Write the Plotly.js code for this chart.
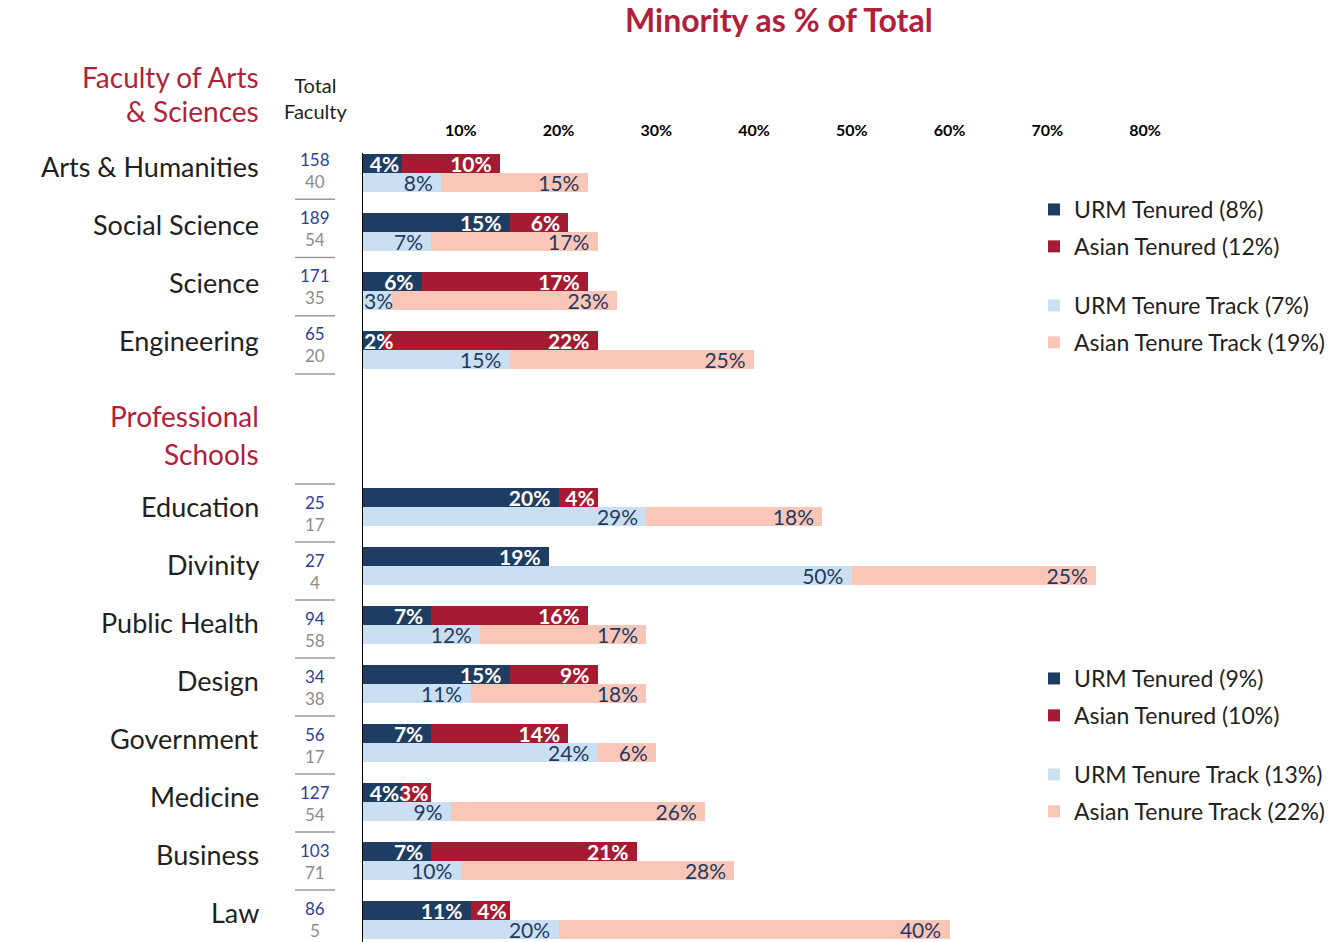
<!DOCTYPE html>
<html>
<head>
<meta charset="utf-8">
<script src="https://cdn.plot.ly/plotly-3.0.1.min.js"></script>
<style>html,body{margin:0;padding:0;background:#fff;}#chart{width:1336px;height:942px;}</style>
</head>
<body>
<div id="chart"></div>
<script>
// ---------- data ----------
const fasCategories = ['Arts & Humanities', 'Social Science', 'Science', 'Engineering'];
const fasTotalTenured = [158, 189, 171, 65];
const fasTotalTrack = [40, 54, 35, 20];
const fasUrmTenured = [4, 15, 6, 2];
const fasAsianTenured = [10, 6, 17, 22];
const fasUrmTrack = [8, 7, 3, 15];
const fasAsianTrack = [15, 17, 23, 25];
const fasLegendNames = ['URM Tenured (8%)', 'Asian Tenured (12%)', 'URM Tenure Track (7%)', 'Asian Tenure Track (19%)'];

const profCategories = ['Education', 'Divinity', 'Public Health', 'Design', 'Government', 'Medicine', 'Business', 'Law'];
const profTotalTenured = [25, 27, 94, 34, 56, 127, 103, 86];
const profTotalTrack = [17, 4, 58, 38, 17, 54, 71, 5];
const profUrmTenured = [20, 19, 7, 15, 7, 4, 7, 11];
const profAsianTenured = [4, 0, 16, 9, 14, 3, 21, 4];
const profUrmTrack = [29, 50, 12, 11, 24, 9, 10, 20];
const profAsianTrack = [18, 25, 17, 18, 6, 26, 28, 40];
const profLegendNames = ['URM Tenured (9%)', 'Asian Tenured (10%)', 'URM Tenure Track (13%)', 'Asian Tenure Track (22%)'];

const groupHeaders = [['Faculty of Arts', '& Sciences'], ['Professional', 'Schools']];
const xTickVals = [10, 20, 30, 40, 50, 60, 70, 80];
const xTickText = ['10%', '20%', '30%', '40%', '50%', '60%', '70%', '80%'];
const chartTitle = 'Minority as % of Total';
const totalHeader = 'Total<br>Faculty';

// ---------- styling ----------
const FONT = 'Lato, "Noto Sans", sans-serif';
const C_URM_T = '#1e3d63';
const C_ASIAN_T = '#a51b31';
const C_URM_TT = '#cbdff3';
const C_ASIAN_TT = '#fac6b8';
const C_CRIMSON = '#b01f3c';
const C_TEXT = '#231f20';
const C_NAVY_TXT = '#1f3a5f';

// geometry (pixels)
const W = 1336, H = 942;
const PL = 363, PR = 1145, PT = 153, PB = 942;
const ROW = 59;            // px per category slot
const Y0 = 173;            // px of slot position 0
const BAR = 19 / ROW;      // bar thickness in slot units
const PROF_OFFSET = 5.661; // slot position of first professional school
const yTop = -(Y0 - PT) / ROW;
const yBot = (PB - Y0) / ROW;
const px2x = p => (p - PL) / (PR - PL);
const px2y = p => (PB - p) / (PB - PT);
const px2slot = p => (p - Y0) / ROW;

const fasPos = fasCategories.map((c, i) => i);
const profPos = profCategories.map((c, i) => PROF_OFFSET + i);

const SMALL = 3;  // first-segment labels this small start at the axis instead
const up = -BAR / 2, dn = BAR / 2;
const annotations = [];

function barTrace(vals, pos, shift, color, name, legend, textColor, bold, first) {
  const tf = {family: FONT, size: 21, color: textColor, weight: bold ? 'bold' : 'normal'};
  const text = vals.map((v, i) => {
    if (!v) return '';
    if (first && v <= SMALL) {
      annotations.push({text: v + '%', xref: 'x', yref: 'y', x: 0, y: pos[i] + shift, xanchor: 'left', yanchor: 'middle',
        showarrow: false, xshift: -1, font: tf});
      return '';
    }
    return v + '%' + (v > 4 ? '\u00a0' : '');
  });
  return {
    type: 'bar', orientation: 'h',
    x: vals, y: pos.map(p => p + shift),
    width: BAR,
    name: name, legend: legend, legendgroup: name,
    marker: {color: color, line: {width: 0}},
    text: text, textposition: 'inside', insidetextanchor: 'end',
    textangle: 0, constraintext: 'none', cliponaxis: false,
    textfont: tf,
    hoverinfo: 'skip'
  };
}

const traces = [
  barTrace(fasUrmTenured, fasPos, up, C_URM_T, fasLegendNames[0], 'legend', '#ffffff', true, true),
  barTrace(fasAsianTenured, fasPos, up, C_ASIAN_T, fasLegendNames[1], 'legend', '#ffffff', true, false),
  barTrace(fasUrmTrack, fasPos, dn, C_URM_TT, fasLegendNames[2], 'legend2', C_NAVY_TXT, false, true),
  barTrace(fasAsianTrack, fasPos, dn, C_ASIAN_TT, fasLegendNames[3], 'legend2', C_NAVY_TXT, false, false),
  barTrace(profUrmTenured, profPos, up, C_URM_T, profLegendNames[0], 'legend3', '#ffffff', true, true),
  barTrace(profAsianTenured, profPos, up, C_ASIAN_T, profLegendNames[1], 'legend3', '#ffffff', true, false),
  barTrace(profUrmTrack, profPos, dn, C_URM_TT, profLegendNames[2], 'legend4', C_NAVY_TXT, false, true),
  barTrace(profAsianTrack, profPos, dn, C_ASIAN_TT, profLegendNames[3], 'legend4', C_NAVY_TXT, false, false)
];

// ---------- left column: names, totals, separators ----------
const shapes = [];
function sep(p) {
  const y = px2slot(p);
  shapes.push({type: 'line', xref: 'paper', yref: 'y', x0: px2x(295), x1: px2x(335), y0: y, y1: y,
    line: {color: '#9a9a9a', width: 1.5}});
}
function addCategory(cats, tTen, tTrk, firstSepPx, stepPx, nameDy, lastSep) {
  cats.forEach((c, i) => {
    const s = firstSepPx + i * stepPx;
    sep(s);
    annotations.push({text: c, xref: 'paper', yref: 'y', x: px2x(261), y: px2slot(s + nameDy), xanchor: 'right', yanchor: 'middle',
      showarrow: false, font: {family: FONT, size: 27, color: C_TEXT}});
    annotations.push({text: String(tTen[i]), xref: 'paper', yref: 'y', x: px2x(315), y: px2slot(s + 18), xanchor: 'center', yanchor: 'middle',
      showarrow: false, font: {family: FONT, size: 17, color: '#2e3f95'}});
    annotations.push({text: String(tTrk[i]), xref: 'paper', yref: 'y', x: px2x(315), y: px2slot(s + 40), xanchor: 'center', yanchor: 'middle',
      showarrow: false, font: {family: FONT, size: 17, color: '#8c8c8c'}});
  });
  if (lastSep) sep(firstSepPx + cats.length * stepPx);
}
addCategory(fasCategories, fasTotalTenured, fasTotalTrack, 141, 58.25, 25, true);
addCategory(profCategories, profTotalTenured, profTotalTrack, 484, 58, 22, false);

const headerPx = [[77, 111], [416, 454]];
groupHeaders.forEach((lines, g) => {
  lines.forEach((t, k) => {
    annotations.push({text: t, xref: 'paper', yref: 'paper', x: px2x(261), y: px2y(headerPx[g][k]), xanchor: 'right', yanchor: 'middle',
      showarrow: false, font: {family: FONT, size: 28, color: C_CRIMSON}});
  });
});
annotations.push({text: totalHeader, xref: 'paper', yref: 'paper', x: px2x(315), y: px2y(98), xanchor: 'center', yanchor: 'middle',
  showarrow: false, font: {family: FONT, size: 20, color: C_TEXT}});
annotations.push({text: '<b>' + chartTitle + '</b>', xref: 'paper', yref: 'paper', x: px2x(779), y: px2y(19), xanchor: 'center', yanchor: 'middle',
  showarrow: false, font: {family: FONT, size: 32, color: C_CRIMSON}});

// ---------- legends ----------
function legendAt(topPx) {
  return {x: px2x(1034), y: px2y(topPx), xanchor: 'left', yanchor: 'top', xref: 'paper', yref: 'paper',
    bgcolor: 'rgba(0,0,0,0)', borderwidth: 0, tracegroupgap: 4, traceorder: 'grouped',
    font: {family: FONT, size: 23, color: C_TEXT}, itemclick: false, itemdoubleclick: false};
}

const layout = {
  width: W, height: H,
  margin: {l: PL, r: W - PR, t: PT, b: H - PB, pad: 0},
  paper_bgcolor: '#ffffff', plot_bgcolor: '#ffffff',
  barmode: 'stack', bargap: 0,
  showlegend: true,
  legend: legendAt(188), legend2: legendAt(284), legend3: legendAt(657), legend4: legendAt(753),
  xaxis: {range: [0, 80], side: 'top', tickvals: xTickVals, ticktext: xTickText, ticks: '',
    showgrid: false, zeroline: false, showline: false, ticklabelstandoff: 13, fixedrange: true,
    tickfont: {family: FONT, size: 16, color: '#000', weight: 'bold'}},
  yaxis: {range: [yBot, yTop], showticklabels: false, ticks: '', showgrid: false, zeroline: false,
    showline: true, linecolor: '#000', linewidth: 1.5, fixedrange: true},
  annotations: annotations,
  shapes: shapes,
  font: {family: FONT}
};

Plotly.newPlot('chart', traces, layout, {displayModeBar: false, staticPlot: true});
</script>
</body>
</html>
